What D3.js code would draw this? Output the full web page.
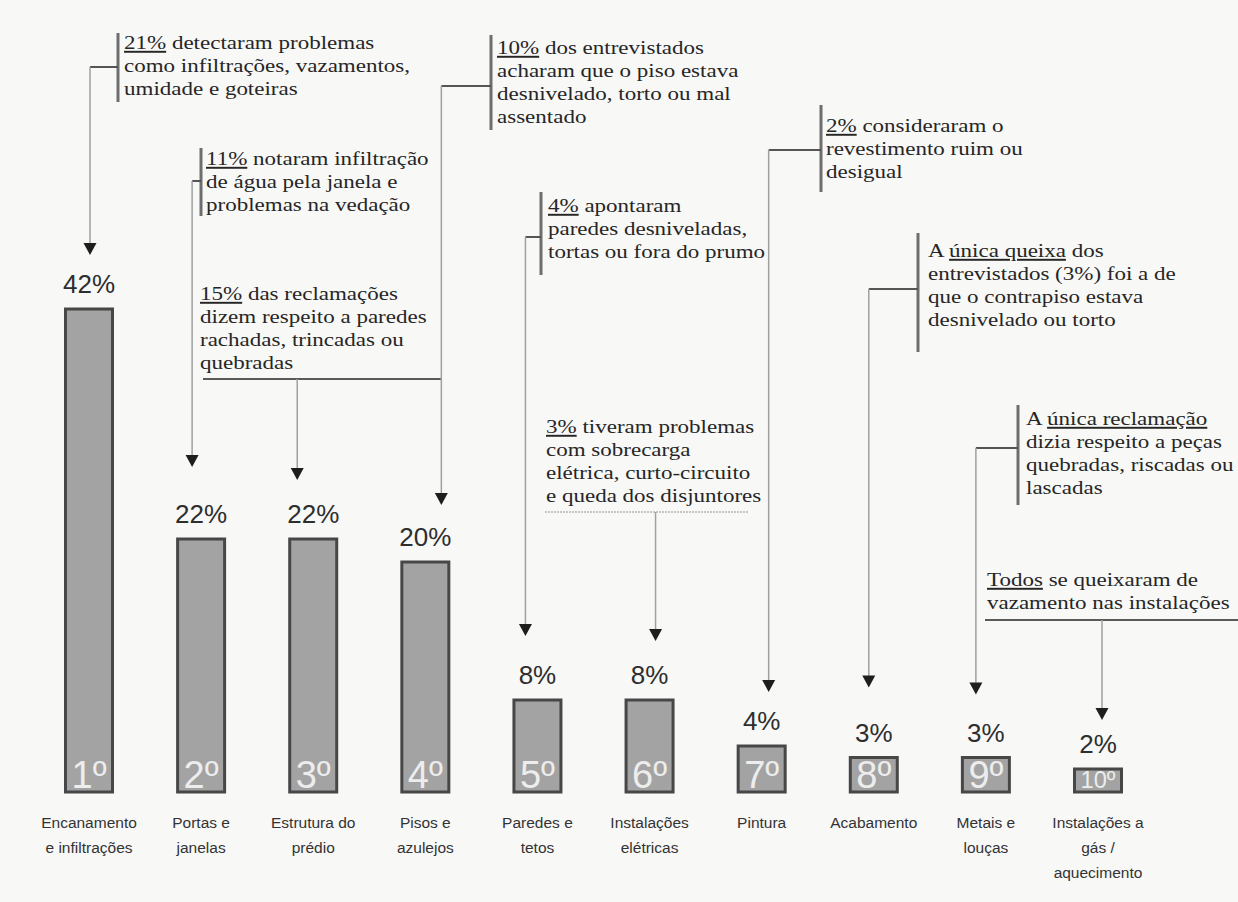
<!DOCTYPE html>
<html>
<head>
<meta charset="utf-8">
<script src="https://cdn.jsdelivr.net/npm/d3@7/dist/d3.min.js"></script>
<style>
  body { margin: 0; background: #f8f8f7; }
  svg { display: block; }
</style>
</head>
<body>
<svg id="chart" width="1238" height="902"></svg>
<script>
// data
const categories = [
  "Encanamento\ne infiltrações", "Portas e\njanelas", "Estrutura do\nprédio", "Pisos e\nazulejos",
  "Paredes e\ntetos", "Instalações\nelétricas", "Pintura", "Acabamento", "Metais e\nlouças",
  "Instalações a\ngás /\naquecimento"
];
const values = [42, 22, 22, 20, 8, 8, 4, 3, 3, 2];
const ranks = ["1º", "2º", "3º", "4º", "5º", "6º", "7º", "8º", "9º", "10º"];
// text between | | is underlined
const notes = [
  ["|21%| detectaram problemas", "como infiltrações, vazamentos,", "umidade e goteiras"],
  ["|11%| notaram infiltração", "de água pela janela e", "problemas na vedação"],
  ["|15%| das reclamações", "dizem respeito a paredes", "rachadas, trincadas ou", "quebradas"],
  ["|10%| dos entrevistados", "acharam que o piso estava", "desnivelado, torto ou mal", "assentado"],
  ["|4%| apontaram", "paredes desniveladas,", "tortas ou fora do prumo"],
  ["|3%| tiveram problemas", "com sobrecarga", "elétrica, curto-circuito", "e queda dos disjuntores"],
  ["|2%| consideraram o", "revestimento ruim ou", "desigual"],
  ["A |única queixa| dos", "entrevistados (3%) foi a de", "que o contrapiso estava", "desnivelado ou torto"],
  ["A |única reclamação|", "dizia respeito a peças", "quebradas, riscadas ou", "lascadas"],
  ["|Todos| se queixaram de", "vazamento nas instalações"]
];

// where each note sits (layout only)
const noteLayout = [
  { kind: "bracket", tx: 124, ty: 49, bx: 118, b0: 33, b1: 102, tick: 67, dx: 1, gap: 54 },
  { kind: "bracket", tx: 206, ty: 165, bx: 201, b0: 148, b1: 216, tick: 181, dx: -9, gap: 72 },
  { kind: "under", tx: 200, ty: 300, u0: 203, u1: 441, uy: 379, dx: -16, gap: 59 },
  { kind: "bracket", tx: 497, ty: 54, bx: 491, b0: 35, b1: 130, tick: 86, dx: 16, gap: 57 },
  { kind: "bracket", tx: 548, ty: 212, bx: 541, b0: 192, b1: 275, tick: 237, dx: -12, gap: 64 },
  { kind: "under", tx: 546, ty: 433, u0: 545, u1: 748, uy: 512, dx: 6, gap: 59, dotted: true },
  { kind: "bracket", tx: 826, ty: 132, bx: 821, b0: 105, b1: 192, tick: 150, dx: 7, gap: 54 },
  { kind: "bracket", tx: 928, ty: 257, bx: 918, b0: 233, b1: 352, tick: 289, dx: -5, gap: 70 },
  { kind: "bracket", tx: 1026, ty: 425, bx: 1018, b0: 405, b1: 505, tick: 448, dx: -10, gap: 63 },
  { kind: "under", tx: 987, ty: 586, u0: 985, u1: 1238, uy: 620, dx: 4, gap: 49 }
];

const svg = d3.select("#chart");
const width = +svg.attr("width");
const height = +svg.attr("height");

const x = d3.scalePoint().domain(categories).range([89, 1098]);
const y = d3.scaleLinear().domain([0, 42]).range([792, 309]);
const barW = 47;

// bars
const bars = svg.append("g").selectAll("g")
  .data(categories)
  .join("g")
  .attr("transform", d => `translate(${x(d)},0)`);

bars.append("rect")
  .attr("x", -barW / 2)
  .attr("y", (d, i) => y(values[i]))
  .attr("width", barW)
  .attr("height", (d, i) => y(0) - y(values[i]))
  .attr("fill", "#a3a3a3")
  .attr("stroke", "#474747")
  .attr("stroke-width", 3);

bars.append("text")
  .attr("text-anchor", "middle")
  .attr("y", y(0) - 4)
  .style("font-family", "'Liberation Sans', Arial, sans-serif")
  .style("font-size", (d, i) => Math.min(38, (y(0) - y(values[i]) - 6) / 0.72) + "px")
  .style("fill", "#ededed")
  .text((d, i) => ranks[i]);

bars.append("text")
  .attr("text-anchor", "middle")
  .attr("y", (d, i) => y(values[i]) - 16)
  .style("font-family", "'Liberation Sans', Arial, sans-serif")
  .style("font-size", "26px")
  .style("fill", "#2e2e2e")
  .text((d, i) => values[i] + "%");

// category labels
bars.append("text")
  .attr("text-anchor", "middle")
  .style("font-family", "'Liberation Sans', Arial, sans-serif")
  .style("font-size", "15.5px")
  .style("fill", "#333")
  .selectAll("tspan")
  .data(d => d.split("\n"))
  .join("tspan")
  .attr("x", 0)
  .attr("y", (d, k) => 828 + k * 25)
  .text(d => d);

// notes with leaders and arrows
noteLayout.forEach((L, i) => {
  const g = svg.append("g");
  const lx = x(categories[i]) + L.dx;
  const tipY = y(values[i]) - L.gap;
  let startY;

  if (L.kind === "bracket") {
    g.append("line")
      .attr("x1", L.bx).attr("x2", L.bx)
      .attr("y1", L.b0).attr("y2", L.b1)
      .attr("stroke", "#6e6e6e").attr("stroke-width", 3);
    g.append("line")
      .attr("x1", lx).attr("x2", L.bx)
      .attr("y1", L.tick).attr("y2", L.tick)
      .attr("stroke", "#555").attr("stroke-width", 2);
    startY = L.tick;
  } else {
    g.append("line")
      .attr("x1", L.u0).attr("x2", L.u1)
      .attr("y1", L.uy).attr("y2", L.uy)
      .attr("stroke", L.dotted ? "#b5b5b5" : "#5a5a5a")
      .attr("stroke-width", L.dotted ? 1.5 : 2)
      .attr("stroke-dasharray", L.dotted ? "2,1" : null);
    startY = L.uy;
  }

  g.append("line")
    .attr("x1", lx).attr("x2", lx)
    .attr("y1", startY).attr("y2", tipY - 10)
    .attr("stroke", "#a0a0a0").attr("stroke-width", 1.5);

  g.append("path")
    .attr("d", `M${lx - 6.5},${tipY - 12} L${lx + 6.5},${tipY - 12} L${lx},${tipY} Z`)
    .attr("fill", "#1e1e1e");

  const txt = g.append("g")
    .attr("transform", `translate(${L.tx},0) scale(1.18,1)`);
  notes[i].forEach((line, k) => {
    const t = txt.append("text")
      .attr("x", 0)
      .attr("y", L.ty + k * 23)
      .style("font-family", "'Liberation Serif', 'Times New Roman', serif")
      .style("font-size", "19.5px")
      .style("fill", "#262626");
    line.split("|").forEach((seg, j) => {
      if (!seg) return;
      t.append("tspan")
        .style("text-decoration", j % 2 ? "underline" : "none")
        .text(seg);
    });
  });
});
</script>
</body>
</html>
